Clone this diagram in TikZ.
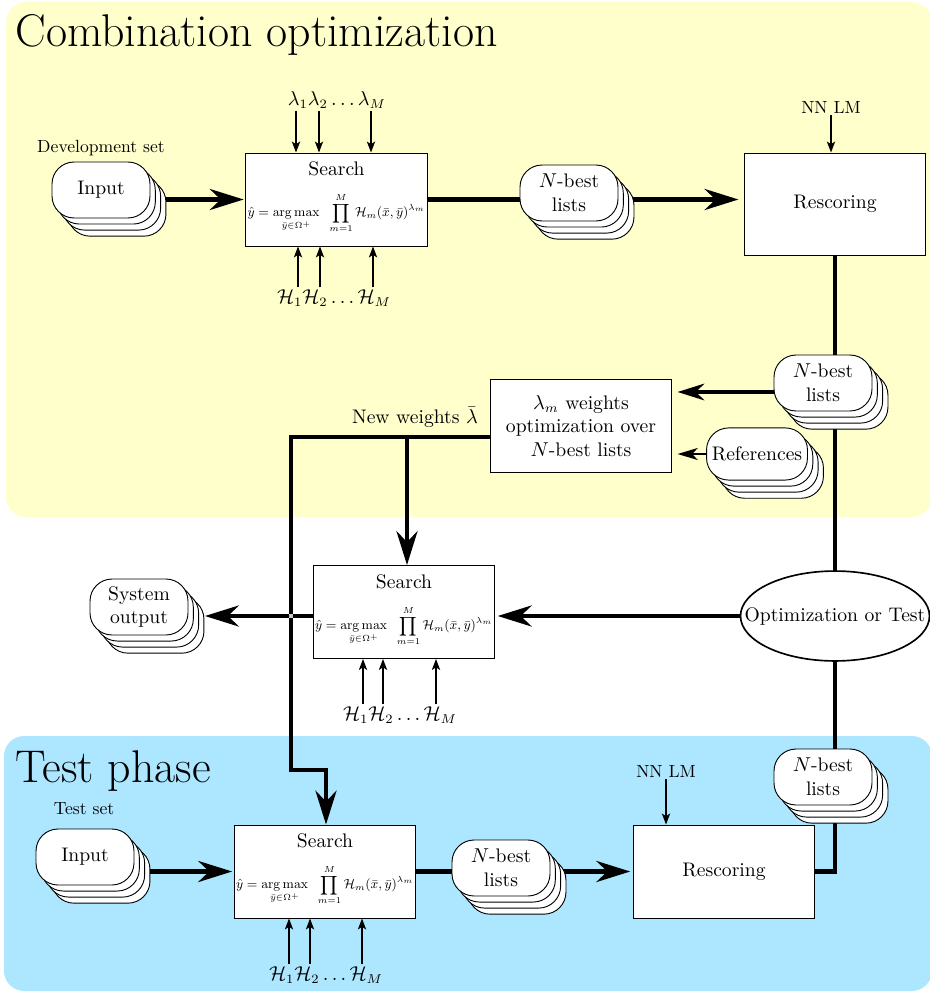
\documentclass[tikz,border=0pt]{standalone}
\usepackage{amsmath}
\usepackage{graphicx}
\usetikzlibrary{arrows.meta,shadows,shapes.geometric,calc}
\definecolor{panelyellow}{RGB}{255,255,204}
\definecolor{panelblue}{RGB}{173,230,255}
\pgfdeclarelayer{bg}\pgfdeclarelayer{wires}\pgfsetlayers{bg,wires,main}
\newcommand\mybase{\fontsize{10.7}{12.9}\selectfont}
\newcommand\mysmall{\fontsize{9.6}{11.5}\selectfont}
\newcommand\myformula{\resizebox{97pt}{!}{\small$\displaystyle \hat{y}=\mathop{\mathrm{arg\,max}}\limits_{\bar{y}\in\Omega^{+}}\;\;\prod_{m=1}^{M}\mathcal{H}_m(\bar{x},\bar{y})^{\lambda_m}$}}
\begin{document}
\begin{tikzpicture}[x=0.545pt,y=-0.545pt,
 every node/.style={font=\mybase},
 sbox/.style={draw, fill=white, line width=0.5pt, minimum width=98.7pt, minimum height=50.7pt, inner sep=0pt, align=center},
 stackbox/.style={draw, fill=white, line width=0.5pt, rounded corners=12pt, minimum width=53.4pt, minimum height=30.5pt, inner sep=1pt, align=center,
   general shadow={shadow xshift=8.7pt,shadow yshift=-9.9pt,fill=white,draw=black,line width=0.5pt},
   general shadow={shadow xshift=5.8pt,shadow yshift=-6.6pt,fill=white,draw=black,line width=0.5pt},
   general shadow={shadow xshift=2.9pt,shadow yshift=-3.3pt,fill=white,draw=black,line width=0.5pt}},
 bigarrow/.style={line width=2.2pt, -{Stealth[length=18.5pt,width=11.5pt,inset=6pt]}},
 wtarrow/.style={line width=2.2pt, -{Stealth[length=14.5pt,width=9pt,inset=4.5pt]}},
 bigline/.style={line width=2.2pt},
 thinarrow/.style={line width=0.9pt, -{Stealth[length=6pt,width=4.5pt,inset=1.5pt]}},
 midarrow/.style={line width=1.3pt, -{Stealth[length=11pt,width=6.5pt,inset=3pt]}},
 lab/.style={inner sep=1pt},
 titlefont/.style={font=\fontsize{25}{30}\selectfont, inner sep=0pt, anchor=base west}]
\useasboundingbox (0,0) rectangle (930,993);
\begin{pgfonlayer}{bg}
\fill[panelyellow, rounded corners=11pt] (6,2) rectangle (932,517);
\fill[panelblue, rounded corners=11pt] (4,736) rectangle (932,991);
\end{pgfonlayer}

% titles
\node[titlefont] (title1) at (15,47) {Combination optimization};
\node[titlefont] (title2) at (15,782) {Test phase};

% ---- combination optimization ----
\node[stackbox] (in1) at (101,190) {Input};
\node[lab, font=\mysmall] (devset) at (101,148) {Development set};
\node[sbox] (s1) at (336.5,199.5) {};
\node[lab] (s1t) at (336.5,169) {Search};
\node[inner sep=0pt] (s1f) at (336.5,213) {\myformula};
\node[lab] (lam) at (337,100) {$\lambda_1\lambda_2\ldots\lambda_M$};
\node[lab] (h1) at (334,298) {$\mathcal{H}_1\mathcal{H}_2\ldots\mathcal{H}_M$};
\node[stackbox] (nb1) at (569,193) {$N$-best\\lists};
\node[sbox, minimum height=55.6pt] (r1) at (835,204) {Rescoring};
\node[lab, font=\mysmall] (nnlm1) at (831,107) {NN LM};
\node[stackbox] (nb2) at (823,383) {$N$-best\\lists};
\node[sbox] (wbox) at (581,426) {$\lambda_m$ weights\\optimization over\\$N$-best lists};
\node[stackbox, minimum width=55pt, minimum height=28.4pt, inner sep=0pt] (refs) at (757,454) {References};
\node[lab, anchor=east] (nwl) at (480,417) {New weights $\bar{\lambda}$};

% ---- middle ----
\node[sbox] (s2) at (404,612) {};
\node[lab] (s2t) at (404,582) {Search};
\node[inner sep=0pt] (s2f) at (404,626) {\myformula};
\node[lab] (h2) at (400,715) {$\mathcal{H}_1\mathcal{H}_2\ldots\mathcal{H}_M$};
\node[draw, ellipse, line width=0.9pt, fill=white, minimum width=103pt, minimum height=49pt, inner sep=0pt] (ell) at (835,616) {};
\node[inner sep=0pt] (elltext) at (ell.center) {Optimization or Test};
\node[stackbox] (sysout) at (139,607) {System\\output};

% ---- test phase ----
\node[stackbox] (in2) at (85,857) {Input};
\node[lab, font=\mysmall] (testset) at (84,809) {Test set};
\node[sbox] (s3) at (325,871.5) {};
\node[lab] (s3t) at (325,841) {Search};
\node[inner sep=0pt] (s3f) at (325,885) {\myformula};
\node[lab] (h3) at (326,975) {$\mathcal{H}_1\mathcal{H}_2\ldots\mathcal{H}_M$};
\node[stackbox] (nb3) at (501,868) {$N$-best\\lists};
\node[sbox] (r3) at (724,871.5) {Rescoring};
\node[lab, font=\mysmall] (nnlm2) at (666,771) {NN LM};
\node[stackbox] (nb4) at (823,777) {$N$-best\\lists};

\coordinate (nwc) at (291,437);
\coordinate (jn) at (407,437);
\coordinate (kink) at (326,770);

\begin{pgfonlayer}{wires}
\draw[bigarrow, shorten >=3pt] (s1.east) -- (s1.east -| r1.west);
\draw[bigline] (r1.south) -- (ell.north);
\draw[bigline] (r3.east) -| (ell.south);
\draw[bigarrow, shorten >=1.5pt] (s3.east) -- (s3.east -| r3.west);
\draw[wtarrow, shorten >=3pt] ([yshift=-4.9pt]nb2.west) -- ([yshift=-4.9pt]nb2.west -| wbox.east);
\draw[midarrow, shorten >=3pt] (refs.west) -- (refs.west -| wbox.east);
\end{pgfonlayer}

\draw[bigarrow] (wbox.west |- nwc) -- (nwc) |- (kink) -- (kink |- s3.north);
\draw[bigarrow] (jn) -- (jn |- s2.north);
\draw[bigarrow, shorten >=1.5pt] (ell.west) -- (ell.west -| s2.east);
\draw[bigarrow] (s2.west |- ell.west) -- ([xshift=9pt]sysout.east |- ell.west);
\fill[black!22] (289,614) rectangle (293,618);
\draw[bigarrow, shorten >=1pt] ([xshift=8.7pt]in1.east |- s1.west) -- (s1.west);
\draw[bigarrow, shorten >=1pt] ([xshift=8.7pt]in2.east |- s3.west) -- (s3.west);

% thin arrows
\foreach \dx in {-41,-18,34} {
  \path ($(lam.south)+(\dx,0)$) coordinate (tmp);
  \draw[thinarrow] (tmp) -- (tmp |- s1.north);
}
\foreach \dx in {-36,-14,39} {
  \path ($(h1.north)+(\dx,0)$) coordinate (tmp);
  \draw[thinarrow] (tmp) -- (tmp |- s1.south);
}
\foreach \dx in {-37,-17,36} {
  \path ($(h2.north)+(\dx,0)$) coordinate (tmp);
  \draw[thinarrow] (tmp) -- (tmp |- s2.south);
}
\foreach \dx in {-37,-16,36} {
  \path ($(h3.north)+(\dx,0)$) coordinate (tmp);
  \draw[thinarrow] (tmp) -- (tmp |- s3.south);
}
\draw[thinarrow] (nnlm1.south) -- (nnlm1.south |- r1.north);
\draw[thinarrow] (nnlm2.south) -- (nnlm2.south |- r3.north);
\end{tikzpicture}
\end{document}
